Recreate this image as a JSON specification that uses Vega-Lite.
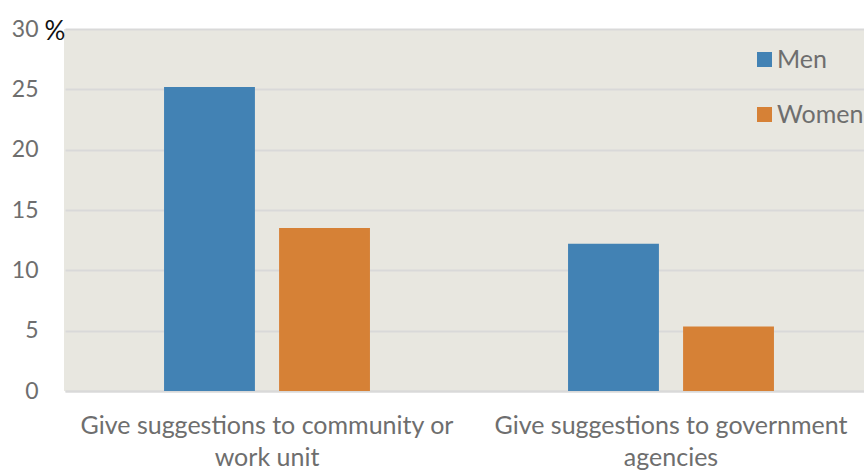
{
  "$schema": "https://vega.github.io/schema/vega-lite/v6.json",
  "width": 800,
  "height": 362,
  "autosize": {"type": "none"},
  "padding": {"left": 64, "top": 29, "right": 0, "bottom": 81},
  "background": "white",
  "config": {
    "view": {"fill": "#E8E7E0", "stroke": null},
    "font": "Lato"
  },
  "data": {
    "values": [
      {"category": "community", "sex": "Men", "value": 25.2},
      {"category": "community", "sex": "Women", "value": 13.5},
      {"category": "government", "sex": "Men", "value": 12.2},
      {"category": "government", "sex": "Women", "value": 5.35}
    ]
  },
  "mark": {"type": "bar"},
  "encoding": {
    "x": {
      "field": "category",
      "type": "nominal",
      "sort": ["community", "government"],
      "scale": {"paddingInner": 0, "paddingOuter": 0, "range": [1, 809]},
      "axis": {
        "title": null,
        "labelAngle": 0,
        "labelExpr": "datum.value == 'community' ? ['Give suggestions to community or', 'work unit'] : ['Give suggestions to government', 'agencies']",
        "labelFontSize": 25,
        "labelColor": "#6E6E6E",
        "labelPadding": 22,
        "labelLineHeight": 32,
        "labelBaseline": "top",
        "labelLimit": 0,
        "labelOverlap": false,
        "ticks": false,
        "domainColor": "#D9D9D9",
        "domainWidth": 2,
        "grid": false
      }
    },
    "xOffset": {
      "field": "sex",
      "type": "nominal",
      "scale": {"paddingInner": 0.21, "paddingOuter": 0.861}
    },
    "y": {
      "field": "value",
      "type": "quantitative",
      "scale": {"domain": [0, 30], "nice": false},
      "axis": {
        "values": [0, 5, 10, 15, 20, 25, 30],
        "title": "%",
        "titleAngle": 0,
        "titleFontSize": 26,
        "titleFontWeight": "normal",
        "titleColor": "#111111",
        "titleX": -20,
        "titleY": 10,
        "titleAlign": "left",
        "titleBaseline": "alphabetic",
        "labelFontSize": 23,
        "labelColor": "#6E6E6E",
        "labelPadding": 26,
        "ticks": false,
        "domain": false,
        "gridColor": "#D9D9D9",
        "gridWidth": 2
      }
    },
    "color": {
      "field": "sex",
      "type": "nominal",
      "scale": {"domain": ["Men", "Women"], "range": ["#4282B4", "#D68136"]},
      "legend": {
        "title": null,
        "orient": "none",
        "legendX": 688,
        "legendY": 18,
        "symbolType": "square",
        "symbolSize": 225,
        "symbolStrokeWidth": 0,
        "symbolOpacity": 1,
        "labelFontSize": 25,
        "labelColor": "#6E6E6E",
        "labelOffset": 0,
        "rowPadding": 29
      }
    }
  }
}
